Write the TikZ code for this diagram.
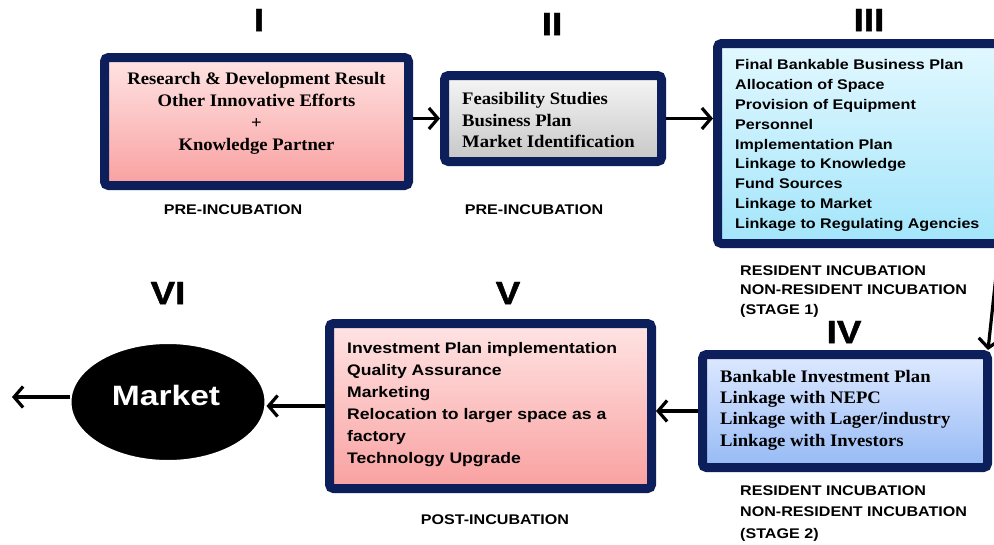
\documentclass[tikz,border=0pt]{standalone}
\usepackage{fontspec}
\setmainfont{Liberation Serif}
\newfontfamily\serifw[FakeStretch=1.06]{Liberation Serif}
\newfontfamily\sansw[FakeStretch=1.15]{Liberation Sans}
\newfontfamily\numfont[FakeStretch=1.2]{Liberation Sans}
\newfontfamily\heavyfont[FakeStretch=1.15,FakeBold=1.5]{Liberation Sans}
\usetikzlibrary{arrows.meta,shapes.geometric}
\definecolor{navy}{RGB}{12,31,91}
\definecolor{pinktop}{RGB}{255,228,228}
\definecolor{pinkbot}{RGB}{249,160,160}
\definecolor{graytop}{RGB}{246,246,246}
\definecolor{graybot}{RGB}{198,198,198}
\definecolor{cyantop}{RGB}{226,248,255}
\definecolor{cyanbot}{RGB}{163,229,250}
\definecolor{bluetop}{RGB}{222,233,255}
\definecolor{bluebot}{RGB}{150,186,245}
\begin{document}
\begin{tikzpicture}[x=1pt,y=-1pt,
  box/.style={draw=navy, line width=9pt, rounded corners=4pt, inner sep=0pt},
  pinkfill/.style={top color=pinktop, bottom color=pinkbot},
  grayfill/.style={top color=graytop, bottom color=graybot},
  cyanfill/.style={top color=cyantop, bottom color=cyanbot},
  bluefill/.style={top color=bluetop, bottom color=bluebot},
  boxtxt/.style={inner sep=0pt, align=left, anchor=west},
  serifbody/.style={font=\serifw\bfseries\fontsize{17.6}{22}\selectfont},
  sansbody/.style={font=\sansw\bfseries\fontsize{14}{19.9}\selectfont},
  sansbodyv/.style={font=\sansw\bfseries\fontsize{15.3}{22}\selectfont},
  stagelabel/.style={inner sep=0pt, align=left, font=\sansw\bfseries\fontsize{14}{20}\selectfont},
  numeral/.style={inner sep=0pt, font=\heavyfont\bfseries\fontsize{32}{32}\selectfont},
  arr/.style={line width=3.2pt, -{Straight Barb[length=9pt,width=21pt]}}
]
\useasboundingbox (0,0) rectangle (994,544);
\clip (0,0) rectangle (994,544);
\fill[white] (0,0) rectangle (994,544);

% boxes
\node[box, pinkfill, minimum width=304pt, minimum height=128pt] (b1) at (256.5,121.5) {};
\node[box, grayfill, minimum width=217pt, minimum height=86pt] (b2) at (553,118.5) {};
\node[box, cyanfill, minimum width=281pt, minimum height=200pt] (b3) at (858,143.5) {};
\node[box, bluefill, minimum width=285pt, minimum height=113pt] (b4) at (845,411) {};
\node[box, pinkfill, minimum width=322pt, minimum height=165pt] (b5) at (490.5,406) {};
\node[ellipse, fill=black, draw=white, line width=2pt, inner sep=0pt,
      minimum width=195pt, minimum height=118pt] (mk) at (168,402) {};

% box texts
\node[serifbody, inner sep=0pt, align=center] (t1) at (256.5,113)
  {Research \& Development Result\\Other Innovative Efforts\\+\\Knowledge Partner};
\node[boxtxt, font=\serifw\bfseries\fontsize{17.6}{21.5}\selectfont] (t2) at (462,120)
  {Feasibility Studies\\Business Plan\\Market Identification};
\node[sansbody, boxtxt] (t3) at (735,145.5)
  {Final Bankable Business Plan\\Allocation of Space\\Provision of Equipment\\Personnel\\Implementation Plan\\Linkage to Knowledge\\Fund Sources\\Linkage to Market\\Linkage to Regulating Agencies};
\node[boxtxt, font=\serifw\bfseries\fontsize{17.6}{21.3}\selectfont] (t4) at (720,410)
  {Bankable Investment Plan\\Linkage with NEPC\\Linkage with Lager/industry\\Linkage with Investors};
\node[sansbodyv, boxtxt] (t5) at (347,405)
  {Investment Plan implementation\\Quality Assurance\\Marketing\\Relocation to larger space as a\\factory\\Technology Upgrade};
\node[inner sep=0pt, text=white, font=\numfont\bfseries\fontsize{28}{28}\selectfont] (mkt) at (166,395) {Market};

% stage labels
\node[stagelabel] (l1) at (233,210) {PRE-INCUBATION};
\node[stagelabel] (l2) at (534,210) {PRE-INCUBATION};
\node[stagelabel, anchor=west, font=\sansw\bfseries\fontsize{14}{19.5}\selectfont] (l3) at (740,291.5)
  {RESIDENT INCUBATION\\NON-RESIDENT INCUBATION\\(STAGE 1)};
\node[stagelabel, anchor=west, font=\sansw\bfseries\fontsize{14}{21.5}\selectfont] (l4) at (740,513.5)
  {RESIDENT INCUBATION\\NON-RESIDENT INCUBATION\\(STAGE 2)};
\node[stagelabel] (l5) at (495,520) {POST-INCUBATION};

% numerals
\node[numeral] (n1) at (259,20) {I};
\node[numeral] (n2) at (552,24) {II};
\node[numeral] (n3) at (869,20) {III};
\node[numeral] (n4) at (844,332) {IV};
\node[numeral] (n5) at (508,293) {V};
\node[numeral] (n6) at (168,293) {VI};

% connectors
\coordinate (out) at (12,397);
\draw[arr] (b1.east |- b2.west) -- (b2.west);
\draw[arr] (b2.east) -- (b3.west |- b2.east);
\draw[arr] ([xshift=-4pt]b3.south east) -- ([xshift=-4pt]b4.north east);
\draw[arr] (b4.west) -- (b5.east |- b4.west);
\draw[arr] (b5.west) -- (mk.east |- b5.west);
\draw[arr] (mk.west |- out) -- (out);
\end{tikzpicture}
\end{document}
